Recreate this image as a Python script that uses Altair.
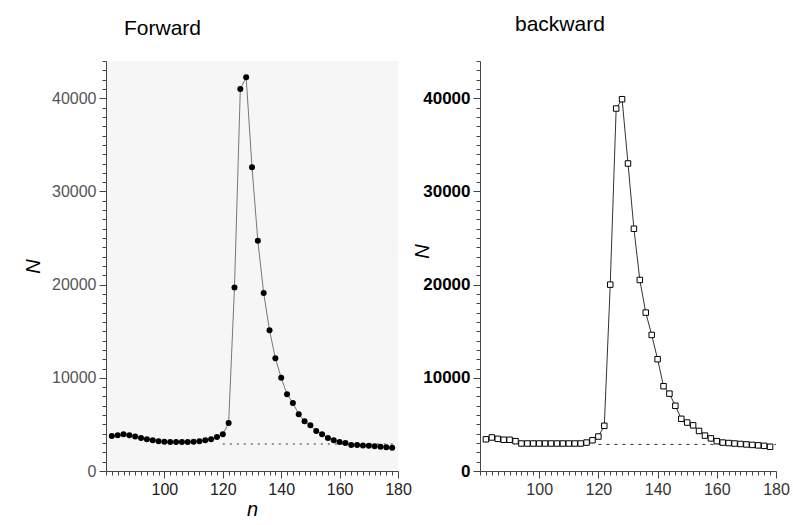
import altair as alt
import pandas as pd

# ---------------- data ----------------
n_values = list(range(82, 180, 2))  # 82 .. 178

N_forward = [3750, 3850, 3950, 3850, 3700, 3550, 3400, 3300, 3200, 3150,
             3100, 3100, 3100, 3100, 3150, 3200, 3300, 3400, 3650, 3950,
             5150, 19700, 41000, 42250, 32600, 24700, 19100, 15100, 12100, 10000,
             8250, 7300, 6100, 5350, 4900, 4300, 3950, 3550, 3300, 3100,
             3000, 2800, 2800, 2750, 2700, 2650, 2600, 2550, 2500]

N_backward = [3400, 3600, 3450, 3350, 3350, 3200, 2950, 2950, 2950, 2950,
              2950, 2950, 2950, 2950, 2950, 2950, 2950, 3050, 3300, 3700,
              4850, 20000, 38900, 39900, 33000, 26000, 20500, 17000,
              14600, 12000, 9100, 8300, 7000, 5600, 5200, 4900, 4300, 3800,
              3500, 3200, 3050, 3000, 2950, 2900, 2850, 2800, 2750, 2700, 2600]

baseline_forward = 2900
baseline_backward = 2850
baseline_start = 120
baseline_end = 180

x_labels = [100, 120, 140, 160, 180]
y_labels = [0, 10000, 20000, 30000, 40000]
x_minor = list(range(80, 181, 2))
y_minor = list(range(0, 44001, 1000))

fwd = pd.DataFrame({"n": n_values, "N": N_forward})
bwd = pd.DataFrame({"n": n_values, "N": N_backward})
fwd_base = pd.DataFrame({"n": [baseline_start], "n_end": [baseline_end], "N": [baseline_forward]})
bwd_base = pd.DataFrame({"n": [baseline_start], "n_end": [baseline_end], "N": [baseline_backward]})

x_scale = alt.Scale(domain=[80, 180], nice=False, zero=False)
y_scale = alt.Scale(domain=[0, 44000], nice=False)

x_test = "datum.value % 20 === 0 && datum.value >= 100"
y_test = "datum.value % 10000 === 0"
FONT = "Liberation Sans"


def common(test, color, weight, size):
    return dict(format="d", tickCount=500,
                labelExpr=f"({test}) ? datum.label : ''",
                labelFontSize={"condition": {"test": test, "value": size}, "value": 0},
                tickSize={"condition": {"test": test, "value": 7}, "value": 4},
                labelOverlap=False, labelFlush=False, labelBound=False, grid=False,
                labelFont=FONT, labelColor=color, labelFontWeight=weight,
                domainColor="#444", tickColor="#444", labelPadding=3,
                titleFont=FONT, titleFontSize=20, titleFontStyle="italic",
                titleFontWeight="normal")


def x_axis(title, color, weight):
    return alt.Axis(values=x_minor, title=title, titlePadding=2,
                    **common(x_test, color, weight, 16))


def y_axis(color, weight, size, extra):
    return alt.Axis(values=y_minor, title="N", **common(y_test, color, weight, size), **extra)


# ---------------- forward panel ----------------
fx = alt.X("n:Q", scale=x_scale, axis=x_axis("n", "#222", "normal"))
fy = alt.Y("N:Q", scale=y_scale, axis=y_axis("#555", "normal", 16, {"titlePadding": 8}))

f_line = alt.Chart(fwd).mark_line(color="#777", strokeWidth=1).encode(x=fx, y=fy)
f_pts = alt.Chart(fwd).mark_point(filled=True, shape="circle", size=36,
                                  color="black", opacity=1).encode(x="n:Q", y="N:Q")
f_rule = alt.Chart(fwd_base).mark_rule(color="#333", strokeDash=[2, 5],
                                       strokeWidth=1.2).encode(x="n:Q", x2="n_end:Q", y="N:Q")

forward = alt.layer(f_line, f_rule, f_pts).properties(
    width=292, height=410,
    title=alt.TitleParams("Forward", anchor="start", frame="group", dx=18, offset=22,
                          font=FONT, fontSize=21, fontWeight="normal", color="black"),
    view=alt.ViewBackground(fill="#f6f6f6", strokeWidth=0),
)

# ---------------- backward panel ----------------
bx = alt.X("n:Q", scale=x_scale, axis=x_axis("", "#333", "normal"))
by = alt.Y("N:Q", scale=y_scale,
           axis=y_axis("black", "bold", 17, {"titleX": -48, "titleY": 190, "titlePadding": 2}))

b_line = alt.Chart(bwd).mark_line(color="#333", strokeWidth=1).encode(x=bx, y=by)
b_pts = alt.Chart(bwd).mark_point(shape="square", filled=True, fill="white", stroke="black",
                                  strokeWidth=1, size=30, opacity=1).encode(x="n:Q", y="N:Q")
b_rule = alt.Chart(bwd_base).mark_rule(color="#333", strokeDash=[3, 5],
                                       strokeWidth=1).encode(x="n:Q", x2="n_end:Q", y="N:Q")

backward = alt.layer(b_line, b_rule, b_pts).properties(
    width=296, height=410,
    title=alt.TitleParams("backward", anchor="start", frame="group", dx=35, offset=26,
                          font=FONT, fontSize=21, fontWeight="normal", color="black"),
    view=alt.ViewBackground(fill="white", strokeWidth=0),
)

chart = alt.hconcat(forward, backward, spacing=0).properties(
    padding={"left": 23, "top": 13, "right": 2, "bottom": 2},
    background="white",
).configure_view(strokeWidth=0).configure_axis(labelOverlap=False)

chart.save("out.html", embed_options={"renderer": "svg", "actions": False})
